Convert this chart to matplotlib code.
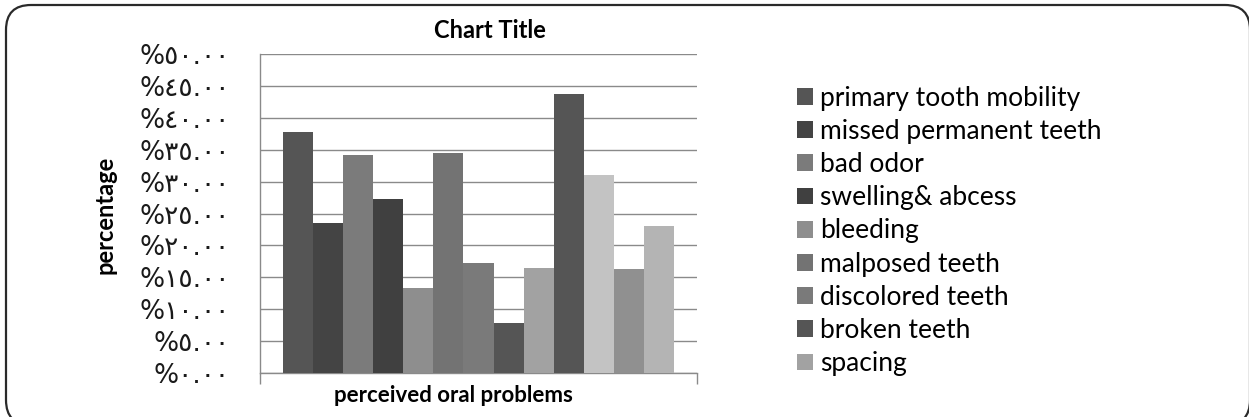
import matplotlib
matplotlib.use("Agg")
import matplotlib.pyplot as plt
from matplotlib.patches import FancyBboxPatch

# data (percent)
values = [37.7, 23.5, 34.2, 27.2, 13.4, 34.5, 17.3, 7.9, 16.5, 43.7, 31.0, 16.3, 23.0]
legend_labels = ["primary tooth mobility", "missed permanent teeth", "bad odor",
                 "swelling& abcess", "bleeding", "malposed teeth",
                 "discolored teeth", "broken teeth", "spacing"]
yticks = [0, 5, 10, 15, 20, 25, 30, 35, 40, 45, 50]

colors = ["#555555", "#444444", "#7b7b7b", "#404040", "#8e8e8e", "#737373",
          "#7a7a7a", "#555555", "#a2a2a2", "#555555", "#c3c3c3", "#909090",
          "#b4b4b4"]

ARABIC = str.maketrans("0123456789", "٠١٢٣٤٥٦٧٨٩")


def pct_label(v):
    return "%" + ("%.2f" % v).translate(ARABIC)


W, H = 1249, 417
fig = plt.figure(figsize=(W / 100, H / 100), dpi=100)

# outer rounded frame
frame = FancyBboxPatch((6 / W, 1 - 425 / H), 1244 / W, 420 / H,
                       boxstyle="round,pad=0,rounding_size=0.02",
                       transform=fig.transFigure, fill=False,
                       edgecolor="#2a2a2a", linewidth=1.6, mutation_aspect=W / H)
fig.patches.append(frame)

ax = fig.add_axes([260 / W, 1 - 373 / H, 437 / W, 319 / H])

n = len(values)
group = 0.897
w = group / n
xs = [-group / 2 + (i + 0.5) * w for i in range(n)]
bars = ax.bar(xs, values, width=w, color=colors, edgecolor="none", zorder=3)

ax.set_xlim(-0.5, 0.5)
ax.set_ylim(0, 50)
ax.set_yticks(yticks)
ax.set_yticklabels([pct_label(v) for v in yticks], family=["DejaVu Sans"],
                   fontsize=19, color="#1a1a1a")
ax.yaxis.grid(True, color="#8a8a8a", linewidth=1.0, zorder=0)
ax.tick_params(axis="y", length=0, pad=22)
ax.set_xticks([-0.5, 0.5])
ax.set_xticklabels([])
ax.tick_params(axis="x", direction="out", length=8, color="#8a8a8a", width=1.0)
for s in ["top", "right"]:
    ax.spines[s].set_visible(False)
for s in ["left", "bottom"]:
    ax.spines[s].set_color("#8a8a8a")
    ax.spines[s].set_linewidth(1.0)

fig.text(490 / W, 1 - 30 / H, "Chart Title", ha="center", va="center",
         fontsize=17, fontweight="bold", family="Lato")
fig.text(453 / W, 1 - 396 / H, "perceived oral problems", ha="center", va="center",
         fontsize=16, fontweight="bold", family="Lato")
fig.text(105 / W, 1 - 215 / H, "percentage", ha="center", va="center",
         rotation=90, fontsize=17, fontweight="bold", family="Lato")

leg = fig.legend(bars[:len(legend_labels)], legend_labels, loc="upper left",
                 bbox_to_anchor=(773 / W, 1 - 62 / H), frameon=False,
                 prop={"family": "Lato", "size": 19}, handlelength=0.6,
                 handleheight=0.6, handletextpad=0.3, labelspacing=0.31)

fig.savefig("out.png", dpi=100)
